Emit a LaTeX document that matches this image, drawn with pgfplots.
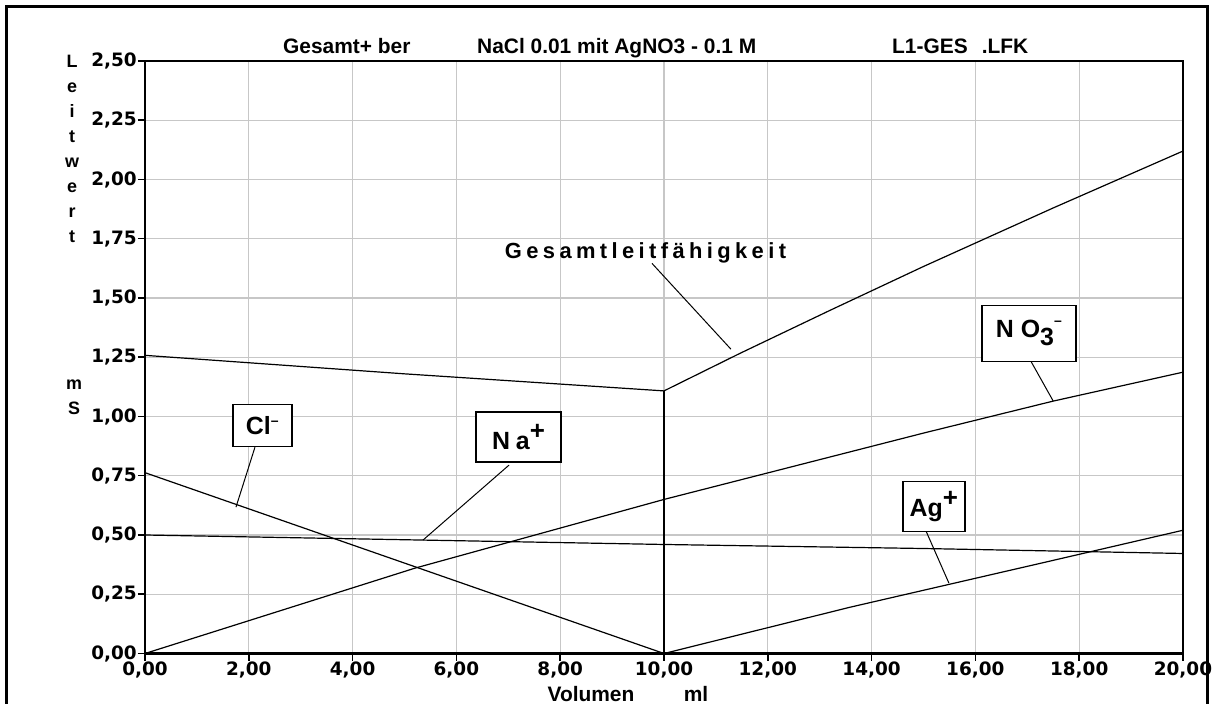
\documentclass[border=0pt]{standalone}
\usepackage{pgfplots}
\pgfplotsset{compat=1.18}
\usepackage{fontspec}
\setmainfont{Liberation Sans}
\newfontfamily\tickfont{DejaVu Sans}
\newfontfamily\spacedfont{Liberation Sans}[LetterSpace=20]
\newcommand{\bx}{\bfseries\fontsize{25}{25}\selectfont}
\begin{document}
\begin{tikzpicture}
\path[use as bounding box] (-145bp,-50.5bp) rectangle (1070bp,653.5bp);
\draw[line width=3bp] (-138bp,-52bp) -- (-138bp,646.5bp) -- (1062bp,646.5bp) -- (1062bp,-52bp);
% title
\node[anchor=base west, font=\bfseries\fontsize{21}{21}\selectfont, inner sep=0] at (138bp,600.2bp) {Gesamt+ ber};
\node[anchor=base west, font=\bfseries\fontsize{21}{21}\selectfont, inner sep=0] at (332bp,600.2bp) {NaCl 0.01 mit AgNO3 - 0.1 M};
\node[anchor=base west, font=\bfseries\fontsize{21}{21}\selectfont, inner sep=0] at (747bp,600.2bp) {L1-GES\hspace{14bp}.LFK};
% y axis label letters
\foreach \ch [count=\k from 0] in {L,e,i,t,w,e,r,t} {
  \node[anchor=base, font=\bfseries\fontsize{18}{18}\selectfont, inner sep=0] at (-73bp,{(653.5-68-24.9*\k)*1bp}) {\ch};
}
\node[anchor=base, font=\bfseries\fontsize{18}{18}\selectfont, inner sep=0] at (-71bp,263.5bp) {m};
\node[anchor=base, font=\bfseries\fontsize{18}{18}\selectfont, inner sep=0] at (-71bp,238.5bp) {S};
% x axis label
\node[anchor=base, font=\bfseries\fontsize{21}{21}\selectfont, inner sep=0] at (446bp,-47.5bp) {Volumen};
\node[anchor=base, font=\bfseries\fontsize{21}{21}\selectfont, inner sep=0] at (551bp,-47.5bp) {ml};
\begin{axis}[
  at={(0,0)}, anchor=south west,
  scale only axis, width=1038bp, height=592.5bp,
  xmin=0, xmax=20, ymin=0, ymax=2.5,
  xtick={0,2,4,6,8,10,12,14,16,18,20},
  ytick={0,0.25,0.5,0.75,1,1.25,1.5,1.75,2,2.25,2.5},
  grid=major,
  major grid style={draw=black!22, line width=1.2bp},
  axis line style={black, line width=2bp},
  tick style={black, line width=1.5bp},
  major tick length=7bp,
  tick align=outside,
  xtick pos=bottom, ytick pos=left,
  /pgf/number format/.cd, fixed, fixed zerofill, precision=2, use comma, assume math mode=true,
  /pgfplots/.cd,
  ticklabel style={font=\tickfont\bfseries\fontsize{18.5}{18.5}\selectfont},
  yticklabel style={inner sep=1bp},
  xticklabel style={inner sep=1bp},
  clip=false,
]
% Gesamtleitfaehigkeit
\addplot[black, line width=1.2bp] coordinates {(0,1.258) (5,1.18) (10,1.108) (11.46,1.266) (13.2,1.448) (15,1.633) (17.5,1.88) (20,2.12)};
% vertical line at equivalence point
\addplot[black, line width=1.2bp] coordinates {(10,0) (10,1.108)};
% Cl-
\addplot[black, line width=1.2bp] coordinates {(0,0.763) (10,0)};
% Na+
\addplot[black, line width=1.2bp] coordinates {(0,0.50) (5,0.48) (10,0.46) (15,0.443) (20,0.422)};
% NO3-
\addplot[black, line width=1.2bp] coordinates {(0,0) (5.2,0.36) (10,0.65) (15,0.93) (17.5,1.065) (20,1.187)};
% Ag+
\addplot[black, line width=1.2bp] coordinates {(10,0) (13.58,0.195) (17.44,0.39) (20,0.52)};
% leaders
\draw[line width=1bp] (axis cs:9.769,1.646) -- (axis cs:11.29,1.284);
\draw[line width=1bp] (axis cs:2.119,0.8706) -- (axis cs:1.753,0.6176);
\draw[line width=1bp] (axis cs:7.013,0.7947) -- (axis cs:5.356,0.4785);
\draw[line width=1bp] (axis cs:17.07,1.233) -- (axis cs:17.50,1.065);
\draw[line width=1bp] (axis cs:15.05,0.516) -- (axis cs:15.49,0.297);
% labels
\node[anchor=base, font=\spacedfont\bfseries\fontsize{22}{22}\selectfont, inner sep=0] at (axis cs:9.644,1.666) {Gesamtleitfähigkeit};
\node[draw, fill=white, line width=1.5bp, minimum width=59bp, minimum height=42bp, inner sep=0, font=\bx] at (axis cs:2.26,0.963) {Cl\raisebox{9bp}{\fontsize{14}{14}\selectfont –}};
\node[draw, fill=white, line width=1.5bp, minimum width=85bp, minimum height=50bp, inner sep=0, font=\bx] at (axis cs:7.197,0.913) {N\hspace{6bp}a\raisebox{10bp}{\fontsize{26}{26}\selectfont +}};
\node[draw, fill=white, line width=1.5bp, minimum width=94bp, minimum height=56bp, inner sep=0, font=\bx] at (axis cs:17.03,1.351) {N\hspace{7bp}O\raisebox{-8bp}{3}\raisebox{12bp}{\fontsize{14}{14}\selectfont –}};
\node[draw, fill=white, line width=1.5bp, minimum width=62bp, minimum height=50bp, inner sep=0, font=\bx] at (axis cs:15.2,0.62) {Ag\raisebox{10bp}{\fontsize{26}{26}\selectfont +}};
\end{axis}
\end{tikzpicture}
\end{document}
